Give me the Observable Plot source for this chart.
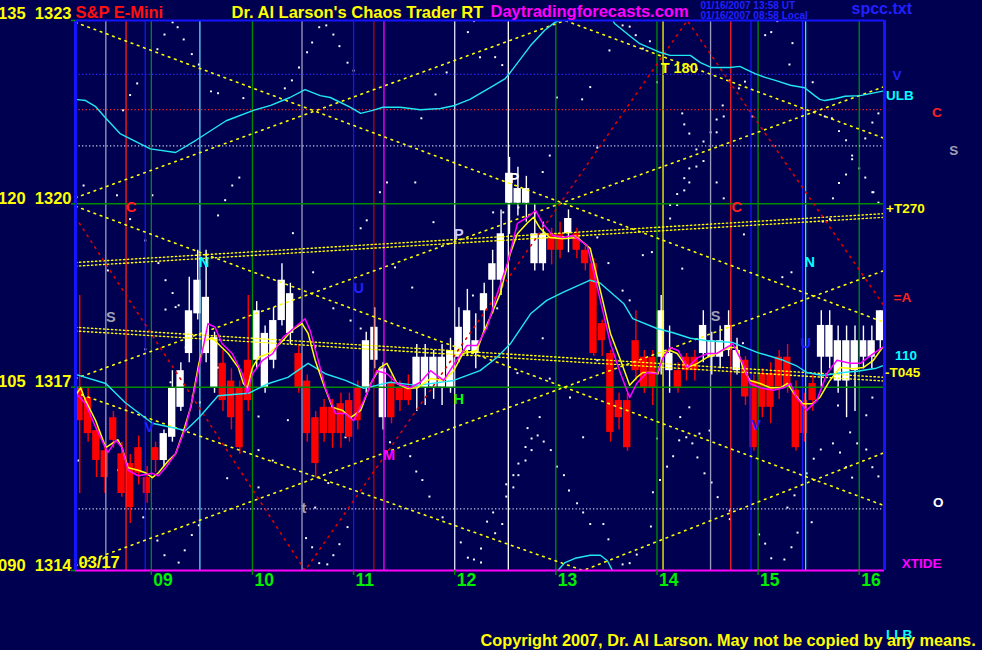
<!DOCTYPE html>
<html><head><meta charset="utf-8">
<script src="https://cdn.jsdelivr.net/npm/d3@7"></script>
<script src="https://cdn.jsdelivr.net/npm/@observablehq/plot@0.6"></script>
<style>html,body{margin:0;padding:0;background:#000050;overflow:hidden}</style>
</head><body><div id="chart"></div>
<script>
// ---------- DATA ----------
const barTimes = ["08:15","08:20","08:25","08:30","08:35","08:40","08:45","08:50","08:55",
"09:00","09:05","09:10","09:15","09:20","09:25","09:30","09:35","09:40","09:45","09:50","09:55",
"10:00","10:05","10:10","10:15","10:20","10:25","10:30","10:35","10:40","10:45","10:50","10:55",
"11:00","11:05","11:10","11:15","11:20","11:25","11:30","11:35","11:40","11:45","11:50","11:55",
"12:00","12:05","12:10","12:15","12:20","12:25","12:30","12:35","12:40","12:45","12:50","12:55",
"13:00","13:05","13:10","13:15","13:20","13:25","13:30","13:35","13:40","13:45","13:50","13:55",
"14:00","14:05","14:10","14:15","14:20","14:25","14:30","14:35","14:40","14:45","14:50","14:55",
"15:00","15:05","15:10","15:15","15:20","15:25","15:30","15:35","15:40","15:45","15:50","15:55",
"16:00","16:05","16:10"];
const barOpen = [1317.00,1316.83,1316.29,1315.96,1316.50,1315.91,1315.75,1316.01,1315.52,
1316.01,1315.80,1316.18,1316.67,1317.55,1318.20,1317.55,1316.99,1317.39,1317.10,1316.99,1317.44,
1317.44,1316.99,1317.44,1318.09,1317.88,1317.55,1317.10,1316.50,1316.67,1316.67,1316.73,1316.78,
1316.99,1316.99,1317.44,1316.50,1317.06,1316.99,1316.99,1316.99,1316.99,1317.00,1317.00,1316.99,
1317.49,1317.60,1317.55,1318.25,1318.75,1318.75,1320.01,1320.01,1320.01,1319.02,1319.02,1319.51,
1319.51,1319.51,1319.51,1319.24,1319.02,1318.04,1317.55,1316.78,1316.78,1317.76,1317.49,1317.49,
1317.49,1317.27,1317.27,1317.49,1317.49,1317.55,1317.49,1317.49,1317.60,1317.27,1317.44,1317.10,
1317.22,1317.22,1317.49,1317.49,1316.95,1316.78,1317.06,1317.49,1317.49,1317.10,1317.10,1317.27,
1317.49,1317.49,1317.76];
const barHigh = [1318.50,1316.99,1316.35,1316.05,1316.60,1316.10,1315.90,1316.20,1315.70,
1316.10,1316.30,1317.27,1317.40,1318.80,1319.24,1319.24,1317.90,1317.60,1317.30,1317.10,1318.50,
1318.40,1318.00,1318.30,1319.02,1318.70,1317.70,1317.20,1316.60,1316.80,1316.80,1316.90,1316.90,
1317.10,1317.90,1318.30,1317.40,1317.20,1317.10,1317.20,1317.70,1317.70,1317.60,1317.70,1317.80,
1318.30,1318.60,1318.20,1318.70,1319.24,1319.90,1320.76,1320.60,1320.45,1320.00,1319.70,1319.60,
1319.70,1319.90,1319.60,1319.30,1319.10,1318.10,1317.60,1316.90,1316.90,1318.25,1317.60,1317.60,
1318.50,1318.00,1317.40,1317.55,1317.60,1318.25,1317.90,1318.00,1318.25,1317.80,1317.50,1317.20,
1317.30,1317.40,1317.60,1317.70,1317.10,1316.90,1317.20,1318.25,1318.25,1318.00,1318.00,1318.00,
1318.00,1318.00,1318.25];
const barLow = [1315.26,1316.10,1315.52,1315.26,1316.00,1315.20,1314.77,1315.40,1315.10,
1315.60,1315.70,1316.10,1316.60,1317.40,1318.10,1317.40,1316.90,1316.60,1316.30,1315.90,1316.60,
1317.30,1316.90,1317.30,1318.00,1317.70,1316.90,1316.10,1315.52,1316.10,1316.00,1316.00,1316.10,
1316.30,1316.90,1317.30,1316.30,1316.40,1316.60,1316.70,1316.60,1316.70,1316.80,1316.70,1316.90,
1317.40,1317.50,1317.30,1317.90,1318.20,1318.50,1319.50,1319.80,1319.70,1318.90,1318.90,1319.00,
1319.10,1319.20,1319.10,1318.90,1317.50,1317.50,1316.10,1316.30,1315.95,1317.10,1316.90,1316.70,
1317.20,1316.90,1316.90,1317.10,1317.10,1317.40,1317.20,1317.30,1317.50,1317.20,1316.70,1315.95,
1316.50,1316.40,1316.80,1316.90,1315.95,1316.10,1316.60,1317.00,1317.30,1316.90,1316.50,1316.60,
1317.30,1317.30,1317.60];
const barClose = [1316.45,1316.24,1315.80,1315.52,1316.13,1315.26,1315.03,1315.59,1315.26,
1315.80,1316.24,1316.99,1317.27,1318.25,1318.75,1318.47,1317.81,1316.78,1316.50,1316.01,1316.78,
1318.25,1317.88,1318.09,1318.75,1318.53,1316.99,1316.24,1315.75,1316.24,1316.24,1316.24,1316.18,
1316.45,1317.76,1317.98,1317.30,1316.50,1316.78,1316.78,1317.49,1317.49,1317.49,1317.49,1317.60,
1317.98,1318.25,1317.76,1318.53,1319.02,1319.51,1320.50,1320.25,1320.25,1319.51,1319.51,1319.24,
1319.24,1319.76,1319.24,1319.02,1317.55,1317.76,1316.26,1316.50,1316.01,1317.27,1316.99,1316.99,
1318.25,1317.55,1316.99,1317.27,1317.27,1318.01,1317.76,1317.76,1318.01,1317.60,1316.84,1316.01,
1316.67,1316.67,1316.99,1316.99,1316.01,1316.24,1316.78,1318.01,1318.01,1317.76,1317.76,1317.76,
1317.76,1317.76,1318.25];

// moving averages / bands  [hour, price]
const yellowMA = [[8.25,1316.86],[8.30,1316.99],[8.35,1316.78],[8.45,1316.45],[8.55,1316.01],[8.62,1316.09],[8.67,1316.14],[8.71,1316.01],[8.77,1315.68],[8.87,1315.64],[8.94,1315.60],[9.01,1315.52],[9.07,1315.60],[9.17,1315.80],[9.24,1315.91],[9.31,1316.24],[9.39,1316.67],[9.47,1317.39],[9.53,1317.76],[9.60,1317.81],[9.66,1317.71],[9.76,1317.55],[9.86,1317.32],[9.91,1317.06],[9.95,1316.99],[10.00,1317.32],[10.06,1317.49],[10.16,1317.55],[10.23,1317.65],[10.30,1317.76],[10.39,1317.93],[10.49,1318.04],[10.55,1317.88],[10.62,1317.44],[10.70,1317.06],[10.79,1316.67],[10.89,1316.62],[10.97,1316.50],[11.07,1316.62],[11.17,1317.06],[11.26,1317.32],[11.33,1317.39],[11.43,1317.06],[11.53,1316.98],[11.63,1316.99],[11.76,1317.14],[11.89,1317.11],[11.99,1317.27],[12.08,1317.55],[12.22,1317.60],[12.28,1317.88],[12.35,1318.14],[12.45,1318.53],[12.55,1319.19],[12.62,1319.51],[12.72,1319.69],[12.78,1319.78],[12.84,1319.61],[12.94,1319.45],[13.07,1319.43],[13.21,1319.45],[13.34,1319.27],[13.44,1318.58],[13.54,1317.88],[13.64,1317.44],[13.73,1317.03],[13.80,1317.16],[13.86,1317.24],[13.96,1317.24],[14.01,1317.22],[14.06,1317.55],[14.13,1317.60],[14.20,1317.55],[14.30,1317.32],[14.40,1317.39],[14.50,1317.49],[14.59,1317.55],[14.72,1317.65],[14.79,1317.65],[14.85,1317.32],[14.92,1317.11],[15.02,1317.06],[15.12,1316.99],[15.22,1316.99],[15.29,1317.06],[15.35,1316.91],[15.44,1316.73],[15.54,1316.73],[15.61,1316.83],[15.71,1317.11],[15.81,1317.32],[15.94,1317.30],[16.04,1317.32],[16.14,1317.44],[16.23,1317.65]];
const magentaMA = [[8.25,1316.91],[8.35,1316.73],[8.45,1316.34],[8.57,1315.93],[8.65,1316.13],[8.71,1316.01],[8.77,1315.64],[8.87,1315.55],[9.01,1315.59],[9.07,1315.55],[9.14,1315.68],[9.24,1315.91],[9.34,1316.34],[9.41,1316.83],[9.50,1317.55],[9.56,1318.04],[9.63,1317.98],[9.70,1317.71],[9.80,1317.55],[9.90,1317.22],[9.95,1316.90],[10.00,1317.22],[10.10,1317.44],[10.20,1317.55],[10.30,1317.81],[10.42,1317.98],[10.52,1318.12],[10.57,1317.93],[10.65,1317.44],[10.72,1316.99],[10.82,1316.57],[10.92,1316.57],[11.00,1316.45],[11.10,1316.78],[11.23,1317.27],[11.33,1317.22],[11.43,1317.06],[11.56,1316.99],[11.66,1317.08],[11.76,1317.27],[11.89,1317.11],[12.02,1317.44],[12.12,1317.68],[12.22,1317.68],[12.32,1317.98],[12.42,1318.53],[12.52,1319.02],[12.62,1319.68],[12.72,1319.78],[12.80,1319.89],[12.87,1319.68],[12.97,1319.48],[13.07,1319.45],[13.17,1319.48],[13.31,1319.32],[13.34,1319.12],[13.44,1318.42],[13.54,1317.71],[13.64,1317.22],[13.73,1316.83],[13.80,1317.06],[13.90,1317.24],[14.00,1317.22],[14.06,1317.48],[14.13,1317.65],[14.21,1317.60],[14.30,1317.32],[14.40,1317.48],[14.50,1317.55],[14.59,1317.55],[14.69,1317.65],[14.75,1317.71],[14.85,1317.39],[14.92,1317.06],[15.02,1316.99],[15.15,1316.95],[15.25,1316.99],[15.32,1317.06],[15.38,1316.83],[15.48,1316.62],[15.58,1316.78],[15.68,1317.22],[15.78,1317.44],[15.91,1317.39],[16.01,1317.39],[16.14,1317.55],[16.23,1317.65]];
const cyanMA = [[8.25,1317.21],[8.55,1317.06],[8.74,1316.75],[9.01,1316.41],[9.34,1316.29],[9.47,1316.50],[9.66,1316.86],[9.96,1316.90],[10.16,1317.06],[10.35,1317.16],[10.55,1317.39],[10.72,1317.22],[10.92,1317.11],[11.10,1316.98],[11.36,1317.08],[11.63,1317.03],[11.99,1317.11],[12.25,1317.27],[12.42,1317.49],[12.55,1317.71],[12.75,1318.20],[12.91,1318.42],[13.07,1318.55],[13.34,1318.75],[13.44,1318.70],[13.67,1318.37],[13.76,1318.12],[14.00,1317.96],[14.16,1317.89],[14.33,1317.80],[14.50,1317.76],[14.75,1317.73],[14.99,1317.57],[15.25,1317.44],[15.38,1317.35],[15.48,1317.24],[15.64,1317.19],[15.84,1317.24],[15.98,1317.26],[16.17,1317.31],[16.23,1317.35]];
const upperBand = [[8.25,1321.71],[8.35,1321.69],[8.45,1321.59],[8.55,1321.40],[8.69,1321.15],[8.99,1320.90],[9.24,1320.84],[9.44,1321.04],[9.74,1321.36],[10.01,1321.53],[10.18,1321.61],[10.37,1321.74],[10.52,1321.87],[10.67,1321.77],[10.77,1321.74],[10.97,1321.58],[11.07,1321.48],[11.19,1321.53],[11.29,1321.58],[11.46,1321.58],[11.66,1321.54],[11.86,1321.56],[12.00,1321.61],[12.15,1321.71],[12.35,1321.90],[12.50,1322.05],[12.55,1322.15],[12.75,1322.59],[12.89,1322.84],[12.99,1322.97],[13.04,1323.00],[13.19,1323.20],[13.39,1323.26],[13.54,1323.08],[13.58,1322.95],[13.73,1322.75],[13.83,1322.62],[14.03,1322.48],[14.13,1322.43],[14.33,1322.43],[14.43,1322.31],[14.54,1322.23],[14.72,1322.23],[14.82,1322.25],[14.87,1322.21],[14.97,1322.13],[15.07,1322.07],[15.17,1322.02],[15.32,1321.94],[15.46,1321.90],[15.56,1321.77],[15.61,1321.71],[15.66,1321.69],[15.76,1321.72],[15.86,1321.76],[16.01,1321.77],[16.16,1321.82],[16.25,1321.85]];
const lowerBand = [[12.97,1313.90],[13.02,1314.00],[13.09,1314.13],[13.19,1314.20],[13.34,1314.25],[13.44,1314.25],[13.51,1314.16],[13.56,1314.00],[13.60,1313.90]];

// forecast (dotted) lines [hour, price]
const diagA = [[8.25,1322.97],[16.25,1318.06]];
const diagB = [[8.25,1320.10],[13.09,1323.00],[16.25,1321.07]];
const diagC = [[8.25,1317.14],[16.25,1321.92]];
const diagD = [[8.25,1314.08],[16.25,1318.91]];
const diagE = [[8.25,1319.96],[16.25,1315.06]];
const diagF = [[8.25,1316.91],[13.27,1314.00],[16.25,1315.93]];
const t270a = [[8.25,1319.04],[16.25,1319.84]];
const t270b = [[8.25,1318.98],[16.25,1319.78]];
const t045a = [[8.25,1317.98],[16.25,1317.16]];
const t045b = [[8.25,1317.92],[16.25,1317.10]];
const redZig = [[8.25,1319.78],[10.52,1314.00],[14.30,1323.00],[16.25,1318.32]];

// scattered white points [hour, price]
const starDots = [[9.21,1322.97],[9.26,1322.89],[9.13,1322.77],[9.32,1322.69],[9.06,1322.53],[9.40,1322.45],[9.47,1322.28],[8.86,1321.97],[8.79,1321.78],[9.59,1321.84],[9.66,1321.81],[9.91,1321.73],[10.54,1322.48],[10.59,1322.64],[10.66,1322.89],[10.73,1322.92],[10.80,1322.77],[10.86,1322.58],[10.94,1322.31],[10.46,1322.23],[10.39,1322.02],[10.32,1321.89],[11.00,1322.18],[11.81,1321.79],[11.92,1322.15],[12.13,1322.81],[12.19,1322.99],[12.25,1322.40],[11.67,1321.40],[8.72,1321.53],[12.40,1322.40],[12.47,1322.27],[13.01,1321.74],[13.34,1321.91],[13.26,1321.71],[13.53,1322.51],[13.66,1322.92],[13.73,1322.90],[13.79,1322.76],[13.86,1322.54],[13.93,1322.66],[14.00,1321.99],[14.72,1322.02],[14.87,1322.00],[14.81,1321.89],[15.13,1322.81],[15.19,1322.99],[15.07,1322.76],[15.34,1322.63],[15.31,1322.28],[14.94,1321.43],[14.65,1321.61],[15.54,1321.99],[16.19,1321.48],[14.25,1321.48],
[8.94,1319.40],[9.14,1318.27],[9.07,1319.03],[9.27,1318.34],[9.48,1316.75],[10.06,1316.52],[10.35,1316.46],[10.40,1319.52],[10.60,1318.88],[10.80,1318.29],[9.34,1317.65],[9.66,1317.32],[9.19,1317.08],[9.75,1315.51],[10.06,1315.97],[10.20,1315.80],[8.28,1315.80],[8.67,1315.64],[8.92,1314.87],[10.92,1316.18],[10.75,1315.43],[10.06,1315.36],[10.62,1317.65],[10.62,1315.03],
[11.33,1320.35],[11.61,1320.35],[11.79,1319.70],[11.26,1320.19],[11.13,1319.73],[11.07,1319.60],[11.41,1318.96],[11.07,1317.96],[10.97,1318.09],[12.63,1319.94],[12.87,1320.52],[12.94,1320.79],[12.87,1317.80],[12.94,1317.14],[13.14,1316.83],[13.27,1316.18],[12.84,1316.51],[12.72,1316.33],[12.42,1318.29],[11.58,1318.63],[12.18,1318.50],[12.38,1319.86],[12.48,1319.86],[12.62,1317.23],[13.41,1317.44],[13.41,1320.92],
[13.52,1319.03],[13.66,1318.58],[13.73,1318.42],[13.86,1319.16],[13.95,1319.21],[14.25,1318.94],[14.32,1316.67],[14.42,1316.24],[14.52,1316.29],[15.24,1318.80],[15.33,1318.88],[15.79,1316.70],[15.91,1316.26],[16.07,1316.54],[16.07,1315.98],[15.98,1316.08],[14.23,1316.51],[14.00,1316.16],[14.85,1317.72],
[12.40,1314.61],[12.47,1314.76],[13.47,1314.76],[13.52,1314.51],[13.94,1314.72],[13.80,1314.26],[13.66,1314.10],[13.73,1314.12],[15.01,1314.59],[15.07,1314.44],[15.13,1314.20],[15.26,1314.18],[15.33,1314.38],[15.39,1314.62],[15.53,1314.79],[9.06,1314.49],[9.13,1314.25],[9.27,1314.13],[9.33,1314.33],[9.40,1314.58],[9.47,1314.74],[10.59,1314.38],[10.53,1314.53],[10.66,1314.12],[10.74,1314.10],[10.80,1314.25],[10.86,1314.43],[10.94,1314.71],[12.06,1314.46],[12.13,1314.21],[12.19,1314.18],[12.26,1314.13],[12.26,1314.36],
[8.33,1320.30],[8.66,1320.14],[8.79,1319.75],[9.01,1320.14],[9.14,1318.75],[9.21,1318.54],[9.24,1318.31],[9.66,1319.81],[9.80,1320.30],[9.87,1320.43],[9.73,1320.06],[8.94,1317.62],[8.57,1318.91],[16.13,1320.19],[16.19,1320.02],[16.13,1316.83],[16.13,1315.69],[16.19,1315.54],
[14.27,1321.30],[14.32,1321.15],[14.59,1321.38],[14.66,1321.43],[14.59,1321.17],[14.53,1321.17],[14.46,1321.02],[14.39,1320.89],[14.46,1320.70],[14.39,1320.61],[14.32,1320.58],[14.27,1320.42],[14.32,1320.35],[14.27,1320.22],[14.20,1320.16],[14.59,1320.35],[14.66,1320.09],[14.13,1319.98],[14.20,1319.98],[14.13,1319.76],[14.86,1319.50],[13.41,1319.45],[15.80,1321.19],[15.87,1321.04],[15.93,1320.79],[15.93,1320.73],[16.00,1320.58],[16.06,1320.43],[15.87,1320.48],[15.80,1320.34],[15.74,1320.09],[16.13,1321.33],[16.06,1321.07],[16.14,1320.19],[15.66,1321.43],[15.73,1321.40],[15.64,1319.71],[15.71,1319.75],
[11.36,1316.10],[11.56,1315.87],[11.62,1315.62],[11.68,1315.48],[11.75,1315.21],[11.88,1314.87],[12.38,1314.95],[12.32,1314.80],[12.51,1315.41],[12.51,1315.21],[12.58,1315.56],[12.58,1315.36],[12.63,1315.56],[12.63,1315.75],[12.70,1315.80],[12.70,1316.02],[12.76,1316.16],[12.76,1315.97],[12.82,1316.21],[12.88,1316.11],[12.95,1315.97],[13.01,1315.70],[13.08,1315.56],[13.13,1315.31],[13.21,1315.10],[13.27,1314.95],[13.34,1314.76],[13.96,1315.28],[14.03,1315.48],[14.10,1315.70],[14.16,1315.87],[14.22,1316.13],[14.29,1316.18],[14.40,1315.85],[14.47,1315.59],[14.54,1315.44],[14.60,1315.20],[14.72,1314.98],[14.72,1314.84],[15.29,1315.03],[15.36,1315.23],[15.48,1315.59],[15.55,1315.83],[15.62,1315.98],[15.81,1315.93],[15.87,1315.69],[15.74,1316.08],[15.93,1315.52],[14.35,1316.08]];

// vertical time lines
const vTimes  = [8.55,8.75,8.94,9.0,9.48,10.0,10.49,11.0,11.2,11.3,12.0,12.53,13.0,14.0,14.06,14.53,14.73,14.93,15.0,15.44,15.47,16.0];
const vColors = ["#9c9cc0","#ff2020","#1414ff","#008c00","#60dcff","#008c00","#9c9cc0","#1414ff","#c00000","#ff00ff","#e4e4ff","#ffffff","#008c00","#008c00","#ffff00","#9c9cc0","#ff2020","#1414ff","#008c00","#2020ff","#00ffff","#008c00"];

// horizontal levels
const solidLevels = [1320, 1317];
const dotLevels = [1322.12, 1321.54, 1320.95, 1315.01];
const dotColors = ["#2a2aff","#ff2020","#c8c8e8","#c8c8e8"];

// axis labels
const hourTicks = [9,10,11,12,13,14,15,16];
const hourLabels = ["09","10","11","12","13","14","15","16"];
const priceTicks = [1323,1320,1317,1314];
const priceLabels = ["135\u00a0\u00a01323","120\u00a0\u00a01320","105\u00a0\u00a01317","090\u00a0\u00a01314"];

// in-chart markers
const mText   = ["S","C","N","V","U","P","H","M","t","P","T 180","C","S","N","U","V"];
const mTimes  = [8.60,8.80,9.52,8.98,11.05,12.04,12.04,11.35,10.51,12.59,14.22,14.79,14.58,15.51,15.47,14.98];
const mPrices = [1318.14,1319.94,1319.04,1316.34,1318.61,1319.50,1316.80,1315.88,1315.01,1320.41,1322.21,1319.94,1318.16,1319.04,1317.71,1316.37];
const mColors = ["#a0a0b4","#ff2020","#00ffff","#2020ff","#2020ff","#c8c8ff","#00ff00","#ff00ff","#a0a0b4","#ffffff","#ffff00","#ff2020","#a0a0b4","#00ffff","#2020ff","#2020ff"];

// right-side labels
const rText   = ["V","ULB","C","S","+T270","=A","110","-T045","O","XTIDE","LLB"];
const rTimes  = [16.33,16.265,16.72,16.89,16.265,16.34,16.355,16.255,16.73,16.42,16.265];
const rPrices = [1322.10,1321.77,1321.49,1320.87,1319.92,1318.47,1317.52,1317.23,1315.11,1314.11,1312.95];
const rColors = ["#2020ff","#00ffff","#ff2020","#a0a0b4","#ffff00","#ff2020","#00ffff","#ffff00","#ffffff","#ff00ff","#00ffff"];

// ---------- BUILD ----------
const toHour = s => { const [h, m] = s.split(":").map(Number); return h + m / 60; };
const barSpan = 5 / 60;
const bars = barTimes.map((t, i) => ({t: toHour(t), o: barOpen[i], h: barHigh[i], l: barLow[i], c: barClose[i]}));
const barColor = d => d.c >= d.o ? "#ffffff" : "#ff0000";
const series = (name, arr) => arr.map(([x, y]) => ({x, y, name}));
const yellowDots = [].concat(series("a", diagA), series("b", diagB), series("c", diagC), series("d", diagD), series("e", diagE), series("f", diagF));
const doubleDots = [].concat(series("g1", t270a), series("g2", t270b), series("h1", t045a), series("h2", t045b));
const vLines = vTimes.map((x, i) => ({x, color: vColors[i]}));
const dLines = dotLevels.map((y, i) => ({y, color: dotColors[i]}));
const markers = mText.map((text, i) => ({text, x: mTimes[i], y: mPrices[i], color: mColors[i]}));
const rights = rText.map((text, i) => ({text, x: rTimes[i], y: rPrices[i], color: rColors[i]}));
const stars = series("s", starDots);

const FONT = "'Liberation Sans', Arial, sans-serif";
const GREEN = "#008c00";
const titleText = (s, dx, dy, fill, size) => Plot.text([s], {frameAnchor: "top-left", text: d => d, textAnchor: "start", lineAnchor: "bottom", dx, dy, fill, fontSize: size, fontWeight: "bold"});

const chart = Plot.plot({
  width: 982, height: 650,
  marginLeft: 75, marginRight: 98, marginTop: 20, marginBottom: 80,
  x: {type: "linear", domain: [8.25, 16.25], axis: null},
  y: {type: "linear", domain: [1314, 1323], axis: null},
  color: {type: "identity"},
  style: {background: "#000050", fontFamily: FONT, overflow: "visible"},
  marks: [
    // scattered points
    Plot.dot(stars, {x: "x", y: "y", r: 1.1, fill: "#ffffff", symbol: "square"}),
    // candles
    Plot.ruleX(bars, {x: d => d.t + barSpan / 2, y1: "l", y2: "h", stroke: barColor, strokeWidth: 1.4}),
    Plot.rect(bars, {x1: "t", x2: d => d.t + barSpan, y1: "o", y2: "c", fill: barColor, insetLeft: 0.3, insetRight: 0.8}),
    // vertical lines
    Plot.ruleX(vLines, {x: "x", stroke: "color", strokeWidth: 1.3}),
    // horizontal
    Plot.ruleY(solidLevels, {stroke: GREEN, strokeWidth: 1.5}),
    Plot.ruleY(dLines, {y: "y", stroke: "color", strokeWidth: 1.3, strokeDasharray: "1.3,2.2"}),
    // dotted forecast lines
    Plot.line(doubleDots, {x: "x", y: "y", z: "name", stroke: "#ffff00", strokeWidth: 1.4, strokeDasharray: "1.4,2.6"}),
    Plot.line(yellowDots, {x: "x", y: "y", z: "name", stroke: "#ffff00", strokeWidth: 1.6, strokeDasharray: "1.6,5", clip: true}),
    Plot.line(series("r", redZig), {x: "x", y: "y", stroke: "#e00000", strokeWidth: 1.6, strokeDasharray: "1.6,5.5", clip: true}),
    // bands and averages
    Plot.line(series("u", upperBand), {x: "x", y: "y", stroke: "#20e8f0", strokeWidth: 1.4, clip: true}),
    Plot.line(series("l", lowerBand), {x: "x", y: "y", stroke: "#20e8f0", strokeWidth: 1.4, clip: true}),
    Plot.line(series("m", cyanMA), {x: "x", y: "y", stroke: "#20e8f0", strokeWidth: 1.4}),
    Plot.line(series("y", yellowMA), {x: "x", y: "y", stroke: "#ffff00", strokeWidth: 1.5}),
    Plot.line(series("g", magentaMA), {x: "x", y: "y", stroke: "#ff00ff", strokeWidth: 1.5}),
    // frame
    Plot.ruleY([1323], {stroke: "#1414ff", strokeWidth: 2}),
    Plot.ruleY([1314], {stroke: "#ff00ff", strokeWidth: 2}),
    Plot.ruleX([8.25, 16.25], {stroke: "#1414ff", strokeWidth: 3}),
    // ticks
    Plot.ruleY(priceTicks, {x1: 8.21, x2: 8.25, stroke: GREEN, strokeWidth: 1.5}),
    Plot.ruleX(hourTicks, {y1: 1314, y2: 1313.92, stroke: GREEN, strokeWidth: 1.5}),
    // axis labels
    Plot.text(hourTicks, {x: d => d, text: (d, i) => hourLabels[i], frameAnchor: "bottom", textAnchor: "start", lineAnchor: "top", dx: 2, dy: 3, fill: "#00ee00", fontSize: 17.5, fontWeight: "bold"}),
    Plot.text(priceTicks.slice(1), {y: d => d, text: (d, i) => priceLabels[i + 1], frameAnchor: "left", textAnchor: "end", lineAnchor: "bottom", dx: -4, fill: "#ffff00", fontSize: 16.5, fontWeight: "bold"}),
    Plot.text(priceTicks.slice(0, 1), {y: d => d, text: (d, i) => priceLabels[i], frameAnchor: "left", textAnchor: "end", lineAnchor: "bottom", dx: -4, dy: -2, fill: "#ffff00", fontSize: 16.5, fontWeight: "bold"}),
    Plot.text(["03/17"], {frameAnchor: "bottom-left", text: d => d, textAnchor: "start", lineAnchor: "bottom", dx: 3, dy: -3, fill: "#ffff00", fontSize: 16.5, fontWeight: "bold"}),
    // markers
    Plot.text(markers, {x: "x", y: "y", text: "text", fill: "color", fontSize: 14.5, fontWeight: "bold"}),
    Plot.text(rights, {x: "x", y: "y", text: "text", fill: "color", textAnchor: "start", fontSize: 13.5, fontWeight: "bold"}),
    // titles
    titleText("S&P E-Mini", 0, -3, "#ff1010", 16.5),
    titleText("Dr. Al Larson's Chaos Trader RT", 156, -3, "#ffff00", 16.5),
    titleText("Daytradingforecasts.com", 415, -4, "#ff00ff", 16.5),
    titleText("01/16/2007 13:58 UT", 625, -11.5, "#2020ff", 10),
    titleText("01/16/2007 08:58 Local", 625, -1.5, "#2020ff", 10),
    titleText("spcc.txt", 776, -6.5, "#2020ff", 16),
    Plot.text(["Copyright 2007, Dr. Al Larson. May not be copied by any means."], {frameAnchor: "bottom-left", text: d => d, textAnchor: "start", lineAnchor: "bottom", dx: 405, dy: 75, fill: "#ffff00", fontSize: 16.3, fontWeight: "bold"})
  ]
});
document.getElementById("chart").appendChild(chart);
</script></body></html>
